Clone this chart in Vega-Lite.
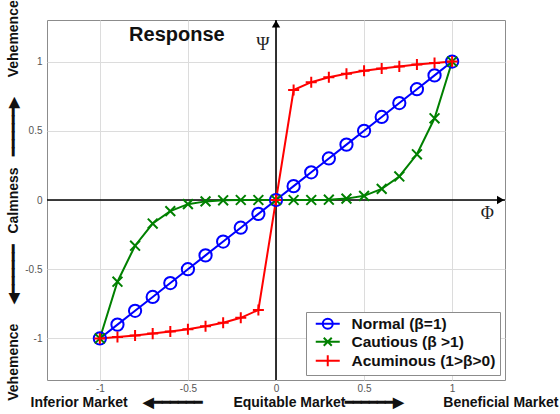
{
  "$schema": "https://vega.github.io/schema/vega-lite/v6.json",
  "width": 458,
  "height": 360,
  "autosize": "none",
  "padding": {"left": 47, "top": 20, "right": 55, "bottom": 34},
  "background": "white",
  "config": {
    "view": {"stroke": "#8c8c8c", "strokeWidth": 1},
    "font": "Liberation Sans",
    "axis": {
      "grid": true,
      "gridColor": "#dcdcdc",
      "gridWidth": 1,
      "domain": false,
      "ticks": false,
      "labelColor": "#555555",
      "labelFontSize": 10,
      "labelFont": "Liberation Sans",
      "titleFont": "Liberation Sans",
      "titleFontWeight": "bold",
      "titleFontSize": 14,
      "titleColor": "#111111"
    },
    "legend": {
      "title": null,
      "orient": "bottom-right",
      "offset": 5,
      "padding": 4,
      "strokeColor": "#8c8c8c",
      "fillColor": "white",
      "labelFont": "Liberation Sans",
      "labelFontSize": 15.5,
      "labelFontWeight": "bold",
      "labelColor": "#111111",
      "labelOffset": 16,
      "rowPadding": 0,
      "symbolOffset": 10,
      "symbolSize": 100,
      "symbolStrokeWidth": 2
    }
  },
  "data": {
    "values": [
      {"series": "Normal (β=1)", "x": -1.0, "y": -1.0},
      {"series": "Normal (β=1)", "x": -0.9, "y": -0.9},
      {"series": "Normal (β=1)", "x": -0.8, "y": -0.8},
      {"series": "Normal (β=1)", "x": -0.7, "y": -0.7},
      {"series": "Normal (β=1)", "x": -0.6, "y": -0.6},
      {"series": "Normal (β=1)", "x": -0.5, "y": -0.5},
      {"series": "Normal (β=1)", "x": -0.4, "y": -0.4},
      {"series": "Normal (β=1)", "x": -0.3, "y": -0.3},
      {"series": "Normal (β=1)", "x": -0.2, "y": -0.2},
      {"series": "Normal (β=1)", "x": -0.1, "y": -0.1},
      {"series": "Normal (β=1)", "x": 0.0, "y": 0.0},
      {"series": "Normal (β=1)", "x": 0.1, "y": 0.1},
      {"series": "Normal (β=1)", "x": 0.2, "y": 0.2},
      {"series": "Normal (β=1)", "x": 0.3, "y": 0.3},
      {"series": "Normal (β=1)", "x": 0.4, "y": 0.4},
      {"series": "Normal (β=1)", "x": 0.5, "y": 0.5},
      {"series": "Normal (β=1)", "x": 0.6, "y": 0.6},
      {"series": "Normal (β=1)", "x": 0.7, "y": 0.7},
      {"series": "Normal (β=1)", "x": 0.8, "y": 0.8},
      {"series": "Normal (β=1)", "x": 0.9, "y": 0.9},
      {"series": "Normal (β=1)", "x": 1.0, "y": 1.0},
      {"series": "Cautious (β >1)", "x": -1.0, "y": -1.0},
      {"series": "Cautious (β >1)", "x": -0.9, "y": -0.59},
      {"series": "Cautious (β >1)", "x": -0.8, "y": -0.33},
      {"series": "Cautious (β >1)", "x": -0.7, "y": -0.17},
      {"series": "Cautious (β >1)", "x": -0.6, "y": -0.08},
      {"series": "Cautious (β >1)", "x": -0.5, "y": -0.03},
      {"series": "Cautious (β >1)", "x": -0.4, "y": -0.01},
      {"series": "Cautious (β >1)", "x": -0.3, "y": -0.002},
      {"series": "Cautious (β >1)", "x": -0.2, "y": 0.0},
      {"series": "Cautious (β >1)", "x": -0.1, "y": 0.0},
      {"series": "Cautious (β >1)", "x": 0.0, "y": 0.0},
      {"series": "Cautious (β >1)", "x": 0.1, "y": 0.0},
      {"series": "Cautious (β >1)", "x": 0.2, "y": 0.0},
      {"series": "Cautious (β >1)", "x": 0.3, "y": 0.002},
      {"series": "Cautious (β >1)", "x": 0.4, "y": 0.01},
      {"series": "Cautious (β >1)", "x": 0.5, "y": 0.03},
      {"series": "Cautious (β >1)", "x": 0.6, "y": 0.08},
      {"series": "Cautious (β >1)", "x": 0.7, "y": 0.17},
      {"series": "Cautious (β >1)", "x": 0.8, "y": 0.33},
      {"series": "Cautious (β >1)", "x": 0.9, "y": 0.59},
      {"series": "Cautious (β >1)", "x": 1.0, "y": 1.0},
      {"series": "Acuminous (1>β>0)", "x": -1.0, "y": -1.0},
      {"series": "Acuminous (1>β>0)", "x": -0.9, "y": -0.99},
      {"series": "Acuminous (1>β>0)", "x": -0.8, "y": -0.978},
      {"series": "Acuminous (1>β>0)", "x": -0.7, "y": -0.965},
      {"series": "Acuminous (1>β>0)", "x": -0.6, "y": -0.95},
      {"series": "Acuminous (1>β>0)", "x": -0.5, "y": -0.933},
      {"series": "Acuminous (1>β>0)", "x": -0.4, "y": -0.912},
      {"series": "Acuminous (1>β>0)", "x": -0.3, "y": -0.887},
      {"series": "Acuminous (1>β>0)", "x": -0.2, "y": -0.851},
      {"series": "Acuminous (1>β>0)", "x": -0.1, "y": -0.794},
      {"series": "Acuminous (1>β>0)", "x": 0.0, "y": 0.0},
      {"series": "Acuminous (1>β>0)", "x": 0.1, "y": 0.794},
      {"series": "Acuminous (1>β>0)", "x": 0.2, "y": 0.851},
      {"series": "Acuminous (1>β>0)", "x": 0.3, "y": 0.887},
      {"series": "Acuminous (1>β>0)", "x": 0.4, "y": 0.912},
      {"series": "Acuminous (1>β>0)", "x": 0.5, "y": 0.933},
      {"series": "Acuminous (1>β>0)", "x": 0.6, "y": 0.95},
      {"series": "Acuminous (1>β>0)", "x": 0.7, "y": 0.965},
      {"series": "Acuminous (1>β>0)", "x": 0.8, "y": 0.978},
      {"series": "Acuminous (1>β>0)", "x": 0.9, "y": 0.99},
      {"series": "Acuminous (1>β>0)", "x": 1.0, "y": 1.0}
    ]
  },
  "encoding": {
    "x": {
      "field": "x", "type": "quantitative",
      "scale": {"domain": [-1.3, 1.3], "nice": false, "zero": false},
      "axis": {
        "values": [-1, -0.5, 0, 0.5, 1],
        "labelExpr": "'' + datum.value",
        "labelPadding": 3,
        "title": "Inferior Market\u00a0\u00a0\u00a0\u00a0◀━━━━━━\u00a0\u00a0\u00a0\u00a0\u00a0\u00a0\u00a0\u00a0Equitable Market━━━━━━▶\u00a0\u00a0\u00a0\u00a0\u00a0\u00a0\u00a0\u00a0\u00a0\u00a0Beneficial Market",
        "titlePadding": 2,
        "titleX": 247
      }
    },
    "y": {
      "field": "y", "type": "quantitative",
      "scale": {"domain": [-1.3, 1.3], "nice": false, "zero": false},
      "axis": {
        "values": [-1, -0.5, 0, 0.5, 1],
        "labelExpr": "'' + datum.value",
        "labelPadding": 5,
        "title": "Vehemence\u00a0\u00a0\u00a0\u00a0\u00a0◀━━━━━━\u00a0\u00a0\u00a0Calmness\u00a0\u00a0\u00a0━━━━━━▶\u00a0\u00a0\u00a0\u00a0\u00a0Vehemence",
        "titlePadding": 4
      }
    },
    "color": {
      "field": "series", "type": "nominal",
      "scale": {"domain": ["Normal (β=1)", "Cautious (β >1)", "Acuminous (1>β>0)"], "range": ["#0000ff", "#008000", "#ff0000"]},
      "legend": {
        "encode": {
          "symbols": {
            "update": {
              "shape": {"signal": "datum.value === 'Normal (β=1)' ? 'M-2.4,0H2.4M1,0A1,1,0,1,1,-1,0A1,1,0,1,1,1,0' : datum.value === 'Cautious (β >1)' ? 'M-2.4,0H2.4M-0.8,-0.8L0.8,0.8M0.8,-0.8L-0.8,0.8' : 'M-2.4,0H2.4M0,-1.1V1.1'"},
              "size": {"value": 100},
              "fill": {"value": "transparent"},
              "strokeWidth": {"value": 2}
            }
          }
        }
      }
    }
  },
  "layer": [
    {
      "transform": [{"filter": "datum.series === 'Normal (β=1)' && datum.x === 0"}],
      "mark": {"type": "rule", "color": "black", "strokeWidth": 1.6},
      "encoding": {"x": null, "color": null, "y": {"datum": 0}}
    },
    {
      "transform": [{"filter": "datum.series === 'Normal (β=1)' && datum.x === 0"}],
      "mark": {"type": "rule", "color": "black", "strokeWidth": 1.6},
      "encoding": {"y": null, "color": null, "x": {"datum": 0}}
    },
    {
      "transform": [{"filter": "datum.series === 'Normal (β=1)' && datum.x === 0"}],
      "mark": {"type": "point", "shape": "triangle-right", "filled": true, "color": "black", "size": 70, "opacity": 1},
      "encoding": {"color": null, "x": {"datum": 1.275}, "y": {"datum": 0}}
    },
    {
      "transform": [{"filter": "datum.series === 'Normal (β=1)' && datum.x === 0"}],
      "mark": {"type": "point", "shape": "triangle-up", "filled": true, "color": "black", "size": 70, "opacity": 1},
      "encoding": {"color": null, "x": {"datum": 0}, "y": {"datum": 1.272}}
    },
    {
      "mark": {"type": "line", "strokeWidth": 2},
      "encoding": {"detail": {"field": "series"}}
    },
    {
      "transform": [{"filter": "datum.series === 'Normal (β=1)'"}],
      "mark": {"type": "point", "shape": "circle", "filled": false, "strokeWidth": 2, "size": 150, "opacity": 1}
    },
    {
      "transform": [{"filter": "datum.series === 'Cautious (β >1)'"}],
      "mark": {"type": "point", "shape": "M-0.8,-0.8L0.8,0.8M0.8,-0.8L-0.8,0.8", "filled": false, "strokeWidth": 2, "size": 150, "opacity": 1}
    },
    {
      "transform": [{"filter": "datum.series === 'Acuminous (1>β>0)'"}],
      "mark": {"type": "point", "shape": "M-0.9,0H0.9M0,-0.9V0.9", "filled": false, "strokeWidth": 2, "size": 150, "opacity": 1}
    },
    {
      "transform": [{"filter": "datum.series === 'Normal (β=1)' && datum.x === 0"}],
      "mark": {"type": "text", "font": "Liberation Sans", "fontSize": 20, "fontWeight": "bold", "fill": "#111111", "baseline": "middle", "text": "Response"},
      "encoding": {"color": null, "x": {"datum": -0.5625}, "y": {"datum": 1.19}}
    },
    {
      "transform": [{"filter": "datum.series === 'Normal (β=1)' && datum.x === 0"}],
      "mark": {"type": "text", "font": "Liberation Serif", "fontSize": 18, "fill": "#222222", "text": "Ψ"},
      "encoding": {"color": null, "x": {"datum": -0.075}, "y": {"datum": 1.12}}
    },
    {
      "transform": [{"filter": "datum.series === 'Normal (β=1)' && datum.x === 0"}],
      "mark": {"type": "text", "font": "Liberation Serif", "fontSize": 18, "fill": "#222222", "text": "Φ"},
      "encoding": {"color": null, "x": {"datum": 1.2}, "y": {"datum": -0.1}}
    }
  ]
}
